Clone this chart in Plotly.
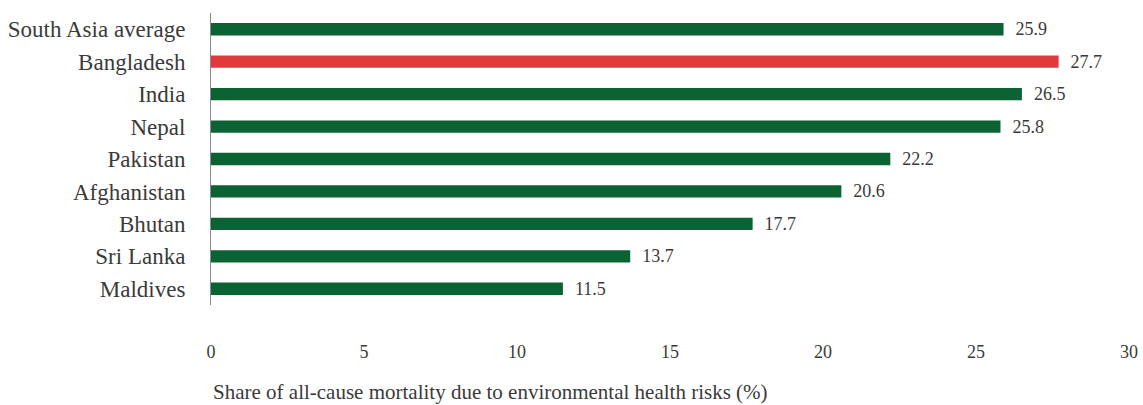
import plotly.graph_objects as go

countries = ["South Asia average", "Bangladesh", "India", "Nepal", "Pakistan",
             "Afghanistan", "Bhutan", "Sri Lanka", "Maldives"]
shares = [25.9, 27.7, 26.5, 25.8, 22.2, 20.6, 17.7, 13.7, 11.5]
x_ticks = [0, 5, 10, 15, 20, 25, 30]

GREEN = "#0b6232"
RED = "#e2393b"
bar_colors = [RED if c == "Bangladesh" else GREEN for c in countries]

FONT = "Liberation Serif"
TEXT = "#3a3a3a"

fig = go.Figure(go.Bar(
    x=shares,
    y=countries,
    orientation="h",
    marker=dict(color=bar_colors, line=dict(width=0)),
    width=0.38,
    texttemplate="  %{x:.1f}",
    textposition="outside",
    constraintext="none",
    cliponaxis=False,
    textfont=dict(family=FONT, size=18, color=TEXT),
))

fig.update_layout(
    width=1143, height=405,
    margin=dict(l=211, r=14, t=13, b=100, autoexpand=False),
    paper_bgcolor="white",
    plot_bgcolor="white",
    showlegend=False,
    font=dict(family=FONT, size=17, color=TEXT),
    xaxis=dict(
        range=[0, 30],
        tickvals=x_ticks,
        ticktext=[str(t) for t in x_ticks],
        showgrid=False,
        zeroline=False,
        showline=False,
        ticks="",
        automargin=False,
        ticklabelstandoff=34,
        tickfont=dict(family=FONT, size=18, color=TEXT),
    ),
    yaxis=dict(
        categoryorder="array",
        categoryarray=countries[::-1],
        showgrid=False,
        zeroline=False,
        showline=True,
        linecolor="#8a8a8a",
        linewidth=1,
        ticks="",
        automargin=False,
        ticklabelstandoff=20,
        tickfont=dict(family=FONT, size=23, color=TEXT),
    ),
    annotations=[dict(
        text="Share of all-cause mortality due to environmental health risks (%)",
        xref="paper", yref="paper",
        x=0, y=-0.345,
        xanchor="left", yanchor="bottom",
        showarrow=False,
        font=dict(family=FONT, size=21, color=TEXT),
    )],
)

fig.write_html("out.html")
